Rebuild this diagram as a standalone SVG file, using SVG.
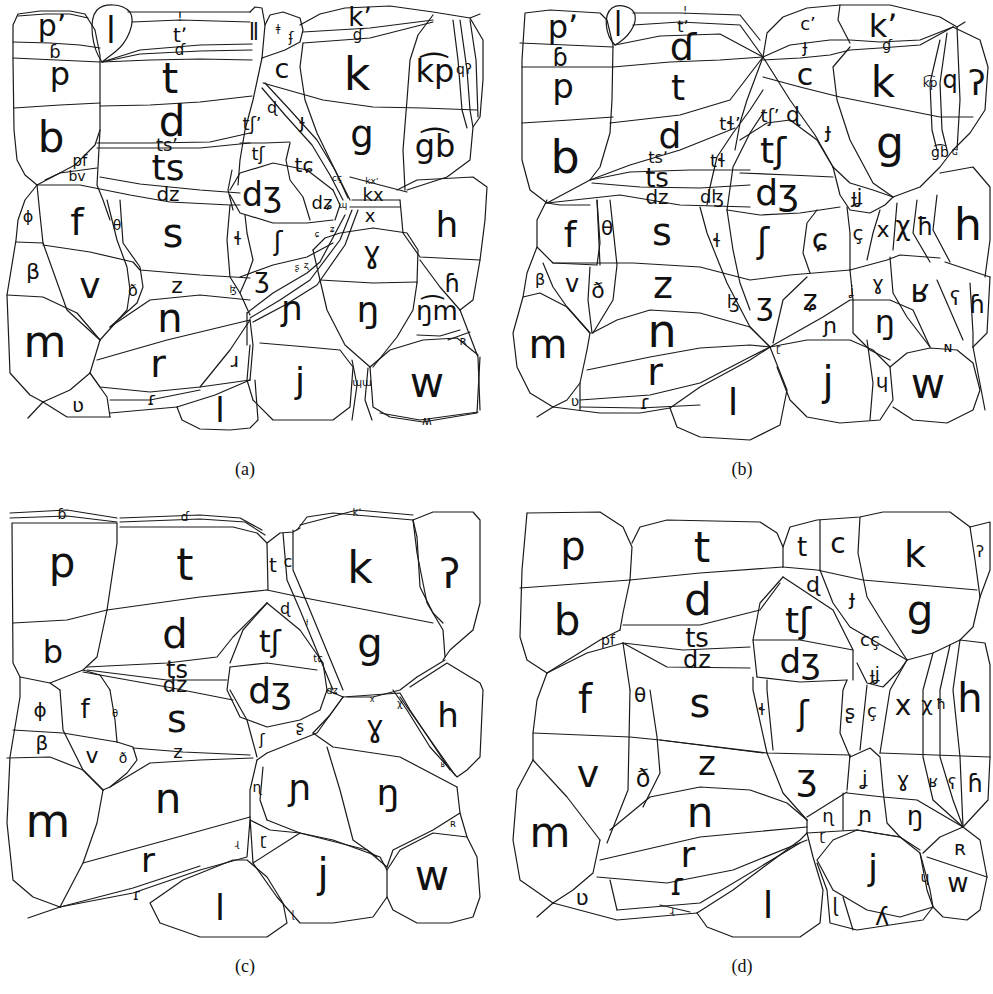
<svg xmlns="http://www.w3.org/2000/svg" width="993" height="994" viewBox="0 0 993 994">
<style>
.L{fill:none;stroke:#1a1a1a;stroke-width:1.2;stroke-linejoin:round;stroke-linecap:round}
.T{font-family:"DejaVu Sans",sans-serif;fill:#111;text-anchor:middle}
.C{font-family:"Liberation Serif",serif;font-size:18px;fill:#111;text-anchor:middle}
</style>
<rect width="993" height="994" fill="#fff"/>
<g id="panel-a">
<g id="a-lines" class="L">
<polyline points="37,185 25,175 17,160 14,130 13,60 13,25 18,14 40,11 70,11 85,14 95,30 100,55 100,130 95,145 75,165 37,185"/>
<polyline points="18,16 45,14 70,14 88,18"/>
<polyline points="13,42 50,43 80,45 100,48"/>
<polyline points="13,58 100,62"/>
<polyline points="14,108 60,105 100,103"/>
<path d="M102,62 C92,48 88,20 97,10 C104,3 122,3 130,12 C136,22 128,42 115,52 Z"/>
<polyline points="128,12 145,12 250,12"/>
<polyline points="132,22 180,20 250,22"/>
<polyline points="102,62 140,50 200,45 252,44"/>
<polyline points="102,62 140,54 200,51 252,50"/>
<polyline points="102,62 150,60 200,59 252,60"/>
<polyline points="100,106 150,105 200,102 252,96"/>
<polyline points="97,143 150,143 210,142 250,133"/>
<polyline points="97,148 150,148 200,148 250,143"/>
<polyline points="100,177 140,184 200,190 240,193"/>
<polyline points="37,185 80,185 130,195 170,202 230,205 240,205"/>
<polyline points="45,180 60,173 97,168"/>
<polyline points="100,130 97,185 103,200 110,220"/>
<polyline points="250,12 255,7 262,8 265,25 262,58"/>
<polyline points="265,25 270,15 283,12 300,18 303,30 300,42 285,50 262,58"/>
<polyline points="300,25 320,14 345,8 390,6 433,12 470,18 480,14"/>
<polyline points="303,32 370,28 433,20"/>
<polyline points="303,43 370,38 433,22"/>
<polyline points="303,43 300,67 305,100 317,133 335,170 350,200"/>
<polyline points="433,15 418,35 410,60 407,100 403,150 405,190"/>
<polyline points="263,83 323,100 373,107 423,108 477,110"/>
<polyline points="453,20 458,60 462,110 467,128"/>
<polyline points="460,20 467,70 470,110 473,127"/>
<polyline points="470,20 476,60 478,117"/>
<polyline points="470,18 483,40 483,80 480,117 473,127 470,160 447,177 407,190"/>
<polyline points="350,177 380,185 407,192"/>
<polyline points="352,200 400,200"/>
<polyline points="262,58 253,100 245,130 240,160 238,185"/>
<polyline points="265,83 290,110 317,140 335,170 348,198"/>
<polyline points="262,88 285,115 312,145 330,175 343,200"/>
<polyline points="240,143 265,143 290,142"/>
<polyline points="230,190 240,173 273,163 307,170 333,190"/>
<polyline points="230,195 240,213 273,223 307,223 333,220"/>
<polyline points="232,170 228,190 233,210"/>
<polyline points="290,143 286,160 290,180 303,197 310,220"/>
<polyline points="333,190 340,205 335,220"/>
<polyline points="350,207 400,207"/>
<polyline points="313,250 325,238 340,233 373,228 407,233 418,250 417,283"/>
<polyline points="320,280 373,283 417,282"/>
<polyline points="313,250 320,280"/>
<polyline points="320,280 327,310 345,345 370,367"/>
<polyline points="417,283 413,310 397,337 373,367"/>
<polyline points="400,200 403,233 420,257 480,260 485,220 487,187 473,177 417,180 397,190"/>
<polyline points="420,260 440,287 460,310"/>
<polyline points="480,260 473,300 460,310"/>
<polyline points="460,310 478,357 480,410"/>
<polyline points="417,335 440,336 460,330"/>
<polyline points="448,340 470,332"/>
<polyline points="370,367 390,350 423,340 457,338 478,355"/>
<polyline points="370,367 373,407 390,417 423,422 477,413 480,357"/>
<polyline points="380,413 420,420 478,412"/>
<polyline points="352,360 357,385 352,420"/>
<polyline points="368,368 365,400 372,420"/>
<polyline points="260,343 307,347 340,350 353,367 350,407 333,420 273,420 253,400 247,380 250,345"/>
<polyline points="247,313 273,293 307,273 320,262 345,215"/>
<polyline points="250,318 280,300 310,280 340,240 352,210"/>
<polyline points="253,322 285,305 317,285 345,245 358,210"/>
<polyline points="247,313 247,345"/>
<polyline points="245,215 247,233 253,260 247,277 240,293"/>
<polyline points="240,277 273,265 307,257 333,243"/>
<polyline points="230,205 227,240 230,277 240,293 250,315"/>
<polyline points="37,185 25,200 18,220 16,240 7,295 10,373 30,395 43,402"/>
<polyline points="37,185 40,215 43,243"/>
<polyline points="16,242 43,243"/>
<polyline points="43,243 67,310 100,340"/>
<polyline points="43,245 90,252 133,262 140,270 200,275 250,278"/>
<polyline points="7,295 43,297 77,313 100,340"/>
<polyline points="107,200 117,240 127,267 130,290 127,310 100,340"/>
<polyline points="120,200 123,243 140,267 143,287 137,303 110,327"/>
<polyline points="110,327 150,300 200,295 250,300"/>
<polyline points="97,360 167,340 250,320"/>
<polyline points="100,340 90,373 70,390 43,402"/>
<polyline points="90,373 100,387 150,392 200,387 250,380"/>
<polyline points="90,373 107,397 110,417"/>
<polyline points="43,402 67,417 110,417"/>
<polyline points="43,402 28,418"/>
<polyline points="110,400 150,400 200,390"/>
<polyline points="110,413 177,407"/>
<polyline points="177,407 215,395 250,380"/>
<polyline points="177,407 182,420 200,429 230,430 250,428 258,420 255,380"/>
<polyline points="250,320 230,350 200,387"/>
<polyline points="250,320 253,345 250,380"/>
</g>
<g id="a-labels" class="T">
<text x="52" y="36" font-size="30">pʼ</text>
<text x="55" y="58" font-size="18">ɓ</text>
<text x="60" y="85" font-size="32">p</text>
<text x="51" y="152" font-size="42">b</text>
<text x="111" y="37" font-size="30">ǀ</text>
<text x="180" y="21" font-size="13">ǃ</text>
<text x="180" y="42" font-size="20">tʼ</text>
<text x="180" y="55" font-size="15">ɗ</text>
<text x="170" y="93" font-size="42">t</text>
<text x="172" y="136" font-size="42">d</text>
<text x="167" y="151" font-size="18">tsʼ</text>
<text x="168" y="180" font-size="36">ts</text>
<text x="168" y="201" font-size="20">dz</text>
<text x="80" y="166" font-size="15">pf</text>
<text x="77" y="181" font-size="14">bv</text>
<text x="254" y="36" font-size="20">ǁ</text>
<text x="278" y="32" font-size="10">ǂ</text>
<text x="291" y="42" font-size="14">ʄ</text>
<text x="360" y="26" font-size="26">kʼ</text>
<text x="358" y="40" font-size="15">ɠ</text>
<text x="282" y="78" font-size="27">c</text>
<text x="357" y="90" font-size="46">k</text>
<text x="435" y="82" font-size="32">k͡p</text>
<text x="464" y="74" font-size="14">qʔ</text>
<text x="362" y="147" font-size="37">g</text>
<text x="435" y="157" font-size="32">g͡b</text>
<text x="252" y="130" font-size="18">tʃʼ</text>
<text x="272" y="113" font-size="16">ɖ</text>
<text x="302" y="128" font-size="20">ɟ</text>
<text x="258" y="160" font-size="18">tʃ</text>
<text x="304" y="172" font-size="20">tɕ</text>
<text x="262" y="206" font-size="33">dʒ</text>
<text x="322" y="209" font-size="18">dʑ</text>
<text x="343" y="208" font-size="9">ɰ</text>
<text x="337" y="181" font-size="9">cç</text>
<text x="373" y="201" font-size="18">kx</text>
<text x="372" y="184" font-size="9">kxʼ</text>
<text x="370" y="222" font-size="18">x</text>
<text x="447" y="237" font-size="36">h</text>
<text x="278" y="250" font-size="26">ʃ</text>
<text x="262" y="287" font-size="26">ʒ</text>
<text x="317" y="237" font-size="9">ɕ</text>
<text x="332" y="232" font-size="9">ʑ</text>
<text x="297" y="270" font-size="9">ʂ</text>
<text x="306" y="268" font-size="9">ʐ</text>
<text x="372" y="263" font-size="30">ɣ</text>
<text x="292" y="320" font-size="34">ɲ</text>
<text x="368" y="322" font-size="36">ŋ</text>
<text x="452" y="292" font-size="24">ɦ</text>
<text x="437" y="320" font-size="26">ŋ͡m</text>
<text x="463" y="345" font-size="12">ʀ</text>
<text x="300" y="393" font-size="36">j</text>
<text x="427" y="397" font-size="42">w</text>
<text x="362" y="386" font-size="10">ɰɯ</text>
<text x="427" y="425" font-size="12">ʍ</text>
<text x="28" y="222" font-size="16">ɸ</text>
<text x="77" y="235" font-size="38">f</text>
<text x="117" y="230" font-size="14">θ</text>
<text x="173" y="247" font-size="40">s</text>
<text x="238" y="245" font-size="18">ɬ</text>
<text x="33" y="279" font-size="22">β</text>
<text x="90" y="298" font-size="36">v</text>
<text x="133" y="296" font-size="16">ð</text>
<text x="177" y="293" font-size="22">z</text>
<text x="233" y="293" font-size="10">ɮ</text>
<text x="45" y="357" font-size="44">m</text>
<text x="170" y="332" font-size="40">n</text>
<text x="158" y="377" font-size="38">r</text>
<text x="235" y="367" font-size="20">ɹ</text>
<text x="78" y="412" font-size="20">ʋ</text>
<text x="152" y="405" font-size="18">ɾ</text>
<text x="220" y="422" font-size="34">l</text>
</g>
<text class="C" x="245" y="475">(a)</text>
</g>
<g id="panel-b">
<g id="b-lines" class="L">
<polyline points="547,203 530,190 522,160 522,60 525,13 550,10 600,13 607,20 613,45 612,100 610,133 600,167 590,180 547,203"/>
<polyline points="520,43 613,47"/>
<polyline points="522,67 613,67"/>
<polyline points="522,123 570,120 613,117"/>
<path d="M615,45 C605,35 603,15 612,8 C620,3 633,7 635,15 C637,25 628,38 615,45 Z"/>
<polyline points="633,13 680,13 740,15 760,40"/>
<polyline points="633,25 680,22 740,25 763,57"/>
<polyline points="615,45 660,36 720,34 763,57"/>
<polyline points="613,67 670,62 720,60 763,57"/>
<polyline points="610,123 680,115 730,100 763,57"/>
<polyline points="590,180 630,165 680,150 735,128"/>
<polyline points="590,180 630,172 690,170 750,170"/>
<polyline points="592,183 640,187 700,188 750,185"/>
<polyline points="547,203 620,195 680,205 750,207"/>
<polyline points="707,205 710,187 717,157 733,133 750,110 763,90"/>
<polyline points="727,210 733,167 750,133 765,110"/>
<polyline points="763,57 767,33 783,17 807,8 840,5 890,5 940,17 957,27 965,22"/>
<polyline points="763,57 790,45 830,40 850,40 880,42 920,40 953,27"/>
<polyline points="763,60 800,58 830,55 850,50 880,48 920,45 953,27"/>
<polyline points="840,5 838,20 850,43"/>
<polyline points="850,47 833,67 837,100 850,140 873,183 893,197"/>
<polyline points="763,77 800,87 840,97 940,117 973,117"/>
<polyline points="953,27 980,40 988,67 985,110 970,133 953,150"/>
<polyline points="940,40 930,83 932,130 937,150"/>
<polyline points="947,33 940,83 942,130 947,150"/>
<polyline points="957,27 960,100 957,150"/>
<polyline points="893,197 920,187 940,167 953,150"/>
<polyline points="763,57 747,100 740,123 735,150"/>
<polyline points="740,140 767,123 790,120 817,140 833,167"/>
<polyline points="763,57 790,100 815,135 833,167"/>
<polyline points="740,173 790,175 833,177"/>
<polyline points="833,167 850,183 873,190 893,197"/>
<polyline points="833,167 840,195 850,210 870,213 885,205 893,197"/>
<polyline points="727,210 760,215 800,213 840,207"/>
<polyline points="547,200 537,220 537,247 553,263 597,265 600,243 597,200"/>
<polyline points="547,203 560,205 590,205"/>
<polyline points="597,200 600,265"/>
<polyline points="610,200 617,265 613,300 593,333"/>
<polyline points="553,263 633,263 700,267 750,280 790,275 850,270"/>
<polyline points="700,207 707,233 727,283 750,327 770,347"/>
<polyline points="727,210 733,250 740,283 750,310"/>
<polyline points="537,247 527,273 523,297"/>
<polyline points="543,263 553,287 567,307 590,333"/>
<polyline points="590,267 588,300 592,333"/>
<polyline points="523,297 540,293 567,307 590,333 587,350 580,383 567,400 553,407 530,393 517,367 513,333 523,297"/>
<polyline points="592,333 617,320 650,310 700,313 750,327 770,347"/>
<polyline points="587,370 650,357 700,348 750,345 770,347"/>
<polyline points="580,400 650,395 700,383 750,357 770,347"/>
<polyline points="580,383 580,410"/>
<polyline points="580,407 640,408 700,405"/>
<polyline points="553,407 600,413 640,413 670,408"/>
<polyline points="553,407 537,417"/>
<polyline points="670,408 700,387 750,360 770,347"/>
<polyline points="670,408 677,427 700,437 750,440 780,425 787,390 770,347"/>
<polyline points="817,210 807,223 803,253 810,273"/>
<polyline points="847,207 850,233 850,270"/>
<polyline points="880,210 873,233 867,260"/>
<polyline points="897,203 893,250"/>
<polyline points="917,200 913,233 930,262"/>
<polyline points="937,195 933,230 950,262"/>
<polyline points="940,173 973,167 990,187 990,240 985,277"/>
<polyline points="945,262 990,277"/>
<polyline points="850,270 887,260 900,255 940,258"/>
<polyline points="770,347 823,317 850,300 890,300 913,310 930,347"/>
<polyline points="807,277 783,300 773,343"/>
<polyline points="850,270 853,300"/>
<polyline points="853,300 853,333 870,350 890,360"/>
<polyline points="770,347 807,340 850,340 873,350 890,367 893,400 880,420 840,423 807,417 790,400 777,367"/>
<polyline points="867,340 873,383 870,420"/>
<polyline points="890,367 907,353 930,348 957,350 973,363 980,390 973,410 947,423 913,420 893,407"/>
<polyline points="890,257 893,293 907,317 930,347"/>
<polyline points="937,280 950,310 963,340"/>
<polyline points="970,283 973,333 973,347"/>
<polyline points="990,277 987,333 973,347"/>
<polyline points="973,347 985,410"/>
</g>
<g id="b-labels" class="T">
<text x="563" y="38" font-size="32">pʼ</text>
<text x="560" y="66" font-size="24">ɓ</text>
<text x="563" y="98" font-size="34">p</text>
<text x="565" y="173" font-size="46">b</text>
<text x="618" y="30" font-size="26">ǀ</text>
<text x="685" y="14" font-size="11">ǃ</text>
<text x="683" y="32" font-size="16">tʼ</text>
<text x="683" y="60" font-size="38">ɗ</text>
<text x="678" y="100" font-size="36">t</text>
<text x="670" y="148" font-size="36">d</text>
<text x="730" y="130" font-size="18">tɬʼ</text>
<text x="718" y="167" font-size="18">tɬ</text>
<text x="658" y="163" font-size="16">tsʼ</text>
<text x="657" y="187" font-size="26">ts</text>
<text x="657" y="204" font-size="20">dz</text>
<text x="712" y="203" font-size="18">dɮ</text>
<text x="808" y="30" font-size="18">cʼ</text>
<text x="805" y="52" font-size="18">ɟ</text>
<text x="883" y="37" font-size="32">kʼ</text>
<text x="887" y="50" font-size="14">ɠ</text>
<text x="805" y="85" font-size="30">c</text>
<text x="883" y="97" font-size="42">k</text>
<text x="930" y="87" font-size="12">k͡p</text>
<text x="950" y="88" font-size="24">q</text>
<text x="977" y="95" font-size="34">ʔ</text>
<text x="770" y="122" font-size="18">tʃʼ</text>
<text x="793" y="122" font-size="22">ɖ</text>
<text x="828" y="138" font-size="22">ɟ</text>
<text x="773" y="163" font-size="36">tʃ</text>
<text x="890" y="158" font-size="44">g</text>
<text x="940" y="157" font-size="14">g͡b</text>
<text x="955" y="155" font-size="10">ɢ</text>
<text x="777" y="205" font-size="36">dʒ</text>
<text x="857" y="203" font-size="20">ɟʝ</text>
<text x="570" y="247" font-size="36">f</text>
<text x="607" y="235" font-size="20">θ</text>
<text x="662" y="245" font-size="38">s</text>
<text x="717" y="247" font-size="18">ɬ</text>
<text x="540" y="285" font-size="16">β</text>
<text x="572" y="292" font-size="24">v</text>
<text x="598" y="298" font-size="22">ð</text>
<text x="663" y="298" font-size="38">z</text>
<text x="733" y="308" font-size="18">ɮ</text>
<text x="548" y="358" font-size="40">m</text>
<text x="662" y="347" font-size="46">n</text>
<text x="655" y="385" font-size="38">r</text>
<text x="575" y="406" font-size="14">ʋ</text>
<text x="645" y="409" font-size="20">ɾ</text>
<text x="733" y="415" font-size="38">l</text>
<text x="763" y="253" font-size="36">ʃ</text>
<text x="820" y="250" font-size="30">ɕ</text>
<text x="858" y="240" font-size="20">ç</text>
<text x="883" y="237" font-size="22">x</text>
<text x="903" y="235" font-size="26">χ</text>
<text x="925" y="235" font-size="24">ħ</text>
<text x="968" y="240" font-size="44">h</text>
<text x="765" y="315" font-size="30">ʒ</text>
<text x="810" y="310" font-size="28">ʑ</text>
<text x="852" y="295" font-size="12">ʝ</text>
<text x="878" y="290" font-size="20">ɣ</text>
<text x="920" y="302" font-size="32">ʁ</text>
<text x="955" y="305" font-size="20">ʕ</text>
<text x="977" y="313" font-size="24">ɦ</text>
<text x="830" y="333" font-size="22">ɲ</text>
<text x="885" y="333" font-size="32">ŋ</text>
<text x="948" y="352" font-size="14">ɴ</text>
<text x="778" y="352" font-size="10">ɽ</text>
<text x="828" y="395" font-size="40">j</text>
<text x="882" y="388" font-size="20">ɥ</text>
<text x="928" y="398" font-size="42">w</text>
</g>
<text class="C" x="742" y="475">(b)</text>
</g>
<g id="panel-c">
<g id="c-lines" class="L">
<polyline points="12,523 117,523 117,543 107,610 97,657 83,670 50,683 20,677 13,663 12,523"/>
<polyline points="10,513 67,510 117,518"/>
<polyline points="10,518 67,516 117,522"/>
<polyline points="13,623 67,620 107,610"/>
<polyline points="120,527 233,527 257,533 267,543 268,590"/>
<polyline points="120,518 200,515 240,518 262,530"/>
<polyline points="120,522 200,519 245,522 265,535"/>
<polyline points="107,610 200,597 267,590"/>
<polyline points="87,667 167,663 217,657 233,637 260,610 267,603"/>
<polyline points="87,670 167,680 227,680"/>
<polyline points="83,672 167,687 233,700"/>
<polyline points="267,543 280,533 293,532 300,528"/>
<polyline points="283,533 287,580 300,610 333,690"/>
<polyline points="293,530 293,570 307,603 343,690"/>
<polyline points="297,530 307,517 333,513 413,520 417,537 420,587 433,613 443,623"/>
<polyline points="300,525 357,510 413,515"/>
<polyline points="267,590 300,597 367,610 433,623"/>
<polyline points="413,520 433,512 473,512 480,520 480,603 473,630 450,650 443,660"/>
<polyline points="413,520 417,553 427,603 443,630 445,657"/>
<polyline points="445,660 417,677 400,690 373,697 347,697"/>
<polyline points="267,603 243,630 230,663"/>
<polyline points="230,667 267,663 317,670"/>
<polyline points="267,603 300,630 323,663"/>
<polyline points="230,667 227,690 240,717 267,727 300,720 320,710 327,690 323,663"/>
<polyline points="327,690 343,697"/>
<polyline points="343,697 400,693 410,710 450,770"/>
<polyline points="313,733 333,747 400,757 457,787"/>
<polyline points="343,697 330,715 313,733"/>
<polyline points="393,690 407,710 430,747 457,777 467,770 480,757 483,690 480,683 447,663 410,687"/>
<polyline points="400,697 455,775"/>
<polyline points="457,787 460,813 433,830 393,850 387,867"/>
<polyline points="327,747 340,790 353,840 377,857"/>
<polyline points="257,760 267,753 317,733 343,697"/>
<polyline points="263,767 260,800 267,820"/>
<polyline points="267,820 300,833 367,850 387,867"/>
<polyline points="230,690 247,720 257,757"/>
<polyline points="257,760 250,790 250,817"/>
<polyline points="83,863 167,840 250,817"/>
<polyline points="60,907 133,893 200,870 247,857 250,820"/>
<polyline points="150,903 183,880 233,860 247,860 267,877 283,903 287,923 267,937 200,937 160,923 150,903"/>
<polyline points="253,863 300,833 333,840 380,857 387,870 387,897 373,917 333,923 300,923 277,897 253,863"/>
<polyline points="250,817 253,863"/>
<polyline points="387,870 400,850 433,833 467,837 477,857 480,897 473,917 450,923 417,923 393,910 387,897"/>
<polyline points="460,813 467,837"/>
<polyline points="20,677 20,697 10,757 7,823 13,880 33,897 60,907"/>
<polyline points="60,907 28,918"/>
<polyline points="60,690 63,730 83,770 103,790"/>
<polyline points="50,683 60,690"/>
<polyline points="83,670 100,675 110,690"/>
<polyline points="110,690 115,720 117,742"/>
<polyline points="13,730 63,733 117,742"/>
<polyline points="7,758 50,757 83,770 103,790"/>
<polyline points="117,742 133,747 137,760 127,773 110,787 103,790"/>
<polyline points="133,748 183,752 250,755"/>
<polyline points="110,787 150,763 200,760 253,758"/>
<polyline points="103,790 97,823 83,863 60,907"/>
<polyline points="60,907 133,888 200,866"/>
<polyline points="250,820 270,830 300,833"/>
</g>
<g id="c-labels" class="T">
<text x="62" y="519" font-size="14">ɓ</text>
<text x="185" y="521" font-size="12">ɗ</text>
<text x="357" y="516" font-size="10">kʼ</text>
<text x="62" y="577" font-size="42">p</text>
<text x="185" y="580" font-size="44">t</text>
<text x="273" y="572" font-size="20">t</text>
<text x="288" y="567" font-size="16">c</text>
<text x="360" y="583" font-size="44">k</text>
<text x="450" y="588" font-size="40">ʔ</text>
<text x="285" y="614" font-size="16">ɖ</text>
<text x="53" y="663" font-size="32">b</text>
<text x="175" y="648" font-size="40">d</text>
<text x="270" y="652" font-size="30">tʃ</text>
<text x="370" y="657" font-size="40">g</text>
<text x="307" y="624" font-size="8">ɟ</text>
<text x="318" y="662" font-size="10">tɕ</text>
<text x="177" y="678" font-size="24">ts</text>
<text x="175" y="692" font-size="21">dz</text>
<text x="270" y="703" font-size="36">dʒ</text>
<text x="332" y="694" font-size="10">dʑ</text>
<text x="372" y="702" font-size="8">x</text>
<text x="400" y="707" font-size="10">χ</text>
<text x="40" y="717" font-size="20">ɸ</text>
<text x="85" y="718" font-size="26">f</text>
<text x="115" y="717" font-size="10">θ</text>
<text x="177" y="732" font-size="38">s</text>
<text x="448" y="727" font-size="34">h</text>
<text x="262" y="745" font-size="16">ʃ</text>
<text x="300" y="732" font-size="16">ʂ</text>
<text x="375" y="737" font-size="30">ɣ</text>
<text x="42" y="750" font-size="20">β</text>
<text x="92" y="763" font-size="22">v</text>
<text x="123" y="763" font-size="14">ð</text>
<text x="178" y="758" font-size="18">z</text>
<text x="443" y="767" font-size="8">ʁ</text>
<text x="257" y="792" font-size="14">ɳ</text>
<text x="300" y="800" font-size="36">ɲ</text>
<text x="388" y="805" font-size="36">ŋ</text>
<text x="48" y="837" font-size="46">m</text>
<text x="168" y="813" font-size="42">n</text>
<text x="453" y="827" font-size="10">ʀ</text>
<text x="237" y="847" font-size="10">ɻ</text>
<text x="263" y="845" font-size="16">ɽ</text>
<text x="148" y="872" font-size="34">r</text>
<text x="323" y="887" font-size="40">j</text>
<text x="432" y="890" font-size="42">w</text>
<text x="137" y="900" font-size="16">ɾ</text>
<text x="220" y="920" font-size="36">l</text>
<text x="293" y="918" font-size="10">ɭ</text>
</g>
<text class="C" x="245" y="972">(c)</text>
</g>
<g id="panel-d">
<g id="d-lines" class="L">
<polyline points="527,513 600,512 623,527 632,547 630,580 623,613 620,630"/>
<polyline points="527,513 522,570 520,637 527,660 547,673"/>
<polyline points="520,588 630,580"/>
<polyline points="547,673 587,653 623,643"/>
<polyline points="547,673 600,640 620,630"/>
<polyline points="632,543 640,527 667,520 760,522 777,533 783,547 783,567"/>
<polyline points="630,580 700,573 783,567"/>
<polyline points="623,625 700,625 760,610 780,583"/>
<polyline points="623,643 683,650 750,647"/>
<polyline points="623,643 667,667 750,668"/>
<polyline points="783,567 817,570 863,580 977,590"/>
<polyline points="820,520 820,570"/>
<polyline points="860,517 858,553 867,597 883,623 907,660"/>
<polyline points="783,547 790,527 817,520 860,517 883,512 950,512 970,527"/>
<polyline points="970,527 990,522 990,570 980,597"/>
<polyline points="970,527 975,560 980,597"/>
<polyline points="980,597 973,627 960,640 933,653 907,660"/>
<polyline points="783,577 833,610 853,650 853,680"/>
<polyline points="820,570 833,603 850,627 907,660"/>
<polyline points="783,577 760,603 753,640 757,677"/>
<polyline points="753,640 800,640 853,650"/>
<polyline points="757,677 800,682 847,680"/>
<polyline points="857,663 867,683 883,687 900,670 907,660"/>
<polyline points="907,660 890,690 880,753"/>
<polyline points="933,653 923,690 923,757 933,800 963,827"/>
<polyline points="950,645 940,690 940,757 953,800 963,827"/>
<polyline points="960,640 953,690 960,757 963,827"/>
<polyline points="960,640 985,643 990,665 990,757 988,800 963,827"/>
<polyline points="547,673 537,700 533,733 533,760"/>
<polyline points="533,733 630,737 660,740 763,753"/>
<polyline points="630,690 628,790 607,843"/>
<polyline points="650,690 657,737 660,773 643,807"/>
<polyline points="623,643 630,690"/>
<polyline points="533,760 517,790 513,840 520,880 553,903"/>
<polyline points="553,903 537,917"/>
<polyline points="533,760 567,797 600,840"/>
<polyline points="600,840 593,873 573,890 553,903"/>
<polyline points="660,740 767,753 850,755"/>
<polyline points="753,677 753,690 767,753"/>
<polyline points="767,680 767,690 773,750"/>
<polyline points="610,830 650,797 700,787 750,790 787,803 807,820"/>
<polyline points="767,753 783,793 807,820"/>
<polyline points="850,755 847,790"/>
<polyline points="807,817 847,792"/>
<polyline points="847,680 843,690 840,733 850,757"/>
<polyline points="867,685 860,750"/>
<polyline points="850,757 870,748 880,757 883,790"/>
<polyline points="880,753 990,757"/>
<polyline points="847,793 883,797 917,800 963,827"/>
<polyline points="883,790 887,823 900,837 920,850"/>
<polyline points="843,793 843,830"/>
<polyline points="807,820 807,833 857,830 900,837"/>
<polyline points="817,860 833,840 857,830 900,837 920,853 930,890 933,907 900,917 867,910 833,890 817,860"/>
<polyline points="923,853 940,837 963,827 980,840 987,877 980,910 967,920 943,917 933,907"/>
<polyline points="927,857 987,877"/>
<polyline points="920,853 927,890 933,907"/>
<polyline points="697,913 733,890 800,840 807,833"/>
<polyline points="807,833 813,857 823,890 820,923 800,937 733,937 707,927 697,913"/>
<polyline points="817,863 827,890 830,923 857,930 923,920 933,907"/>
<polyline points="843,897 853,930"/>
<polyline points="600,860 700,837 807,827"/>
<polyline points="597,877 667,883 733,870 807,840"/>
<polyline points="617,910 700,903 800,843"/>
<polyline points="610,880 617,910"/>
<polyline points="553,903 617,920 697,913"/>
<polyline points="660,905 690,912"/>
</g>
<g id="d-labels" class="T">
<text x="573" y="560" font-size="40">p</text>
<text x="702" y="562" font-size="42">t</text>
<text x="802" y="556" font-size="26">t</text>
<text x="838" y="553" font-size="28">c</text>
<text x="915" y="567" font-size="38">k</text>
<text x="980" y="557" font-size="16">ʔ</text>
<text x="567" y="635" font-size="42">b</text>
<text x="698" y="615" font-size="44">d</text>
<text x="813" y="592" font-size="22">ɖ</text>
<text x="852" y="605" font-size="22">ɟ</text>
<text x="798" y="633" font-size="36">tʃ</text>
<text x="920" y="625" font-size="42">g</text>
<text x="608" y="645" font-size="14">pf</text>
<text x="697" y="647" font-size="26">ts</text>
<text x="697" y="668" font-size="24">dz</text>
<text x="870" y="646" font-size="18">cç</text>
<text x="800" y="673" font-size="34">dʒ</text>
<text x="875" y="680" font-size="18">ɟʝ</text>
<text x="585" y="713" font-size="40">f</text>
<text x="640" y="702" font-size="20">θ</text>
<text x="700" y="717" font-size="40">s</text>
<text x="762" y="715" font-size="16">ɬ</text>
<text x="803" y="725" font-size="34">ʃ</text>
<text x="850" y="719" font-size="20">ʂ</text>
<text x="872" y="717" font-size="18">ç</text>
<text x="903" y="715" font-size="28">x</text>
<text x="927" y="711" font-size="20">χ</text>
<text x="941" y="709" font-size="14">ħ</text>
<text x="970" y="712" font-size="40">h</text>
<text x="588" y="787" font-size="38">v</text>
<text x="643" y="787" font-size="24">ð</text>
<text x="707" y="775" font-size="34">z</text>
<text x="807" y="790" font-size="36">ʒ</text>
<text x="865" y="785" font-size="20">ʝ</text>
<text x="903" y="787" font-size="22">ɣ</text>
<text x="933" y="787" font-size="16">ʁ</text>
<text x="952" y="789" font-size="16">ʕ</text>
<text x="975" y="792" font-size="24">ɦ</text>
<text x="550" y="847" font-size="42">m</text>
<text x="700" y="827" font-size="42">n</text>
<text x="828" y="822" font-size="18">ɳ</text>
<text x="865" y="822" font-size="22">ɲ</text>
<text x="915" y="825" font-size="26">ŋ</text>
<text x="960" y="855" font-size="20">ʀ</text>
<text x="822" y="840" font-size="14">ɽ</text>
<text x="688" y="867" font-size="36">r</text>
<text x="873" y="880" font-size="36">j</text>
<text x="925" y="882" font-size="14">ɥ</text>
<text x="958" y="892" font-size="26">w</text>
<text x="678" y="895" font-size="30">ɾ</text>
<text x="582" y="905" font-size="22">ʋ</text>
<text x="768" y="918" font-size="38">l</text>
<text x="835" y="912" font-size="20">ɭ</text>
<text x="882" y="925" font-size="24">ʎ</text>
<text x="672" y="914" font-size="10">ɻ</text>
</g>
<text class="C" x="742" y="972">(d)</text>
</g>
</svg>
